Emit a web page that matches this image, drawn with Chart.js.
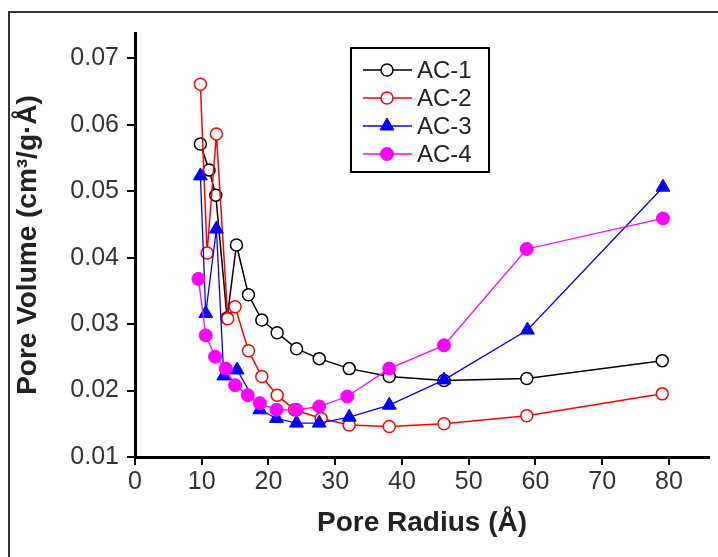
<!DOCTYPE html>
<html>
<head>
<meta charset="utf-8">
<script src="https://cdn.jsdelivr.net/npm/chart.js@4.4.1/dist/chart.umd.min.js"></script>
<style>
  html, body { margin: 0; padding: 0; background: #fff; }
  #wrap { width: 718px; height: 557px; position: relative; }
</style>
</head>
<body>
<div id="wrap"><canvas id="chart_poreVolume"></canvas></div>
<script>
// pore radius (Å) and pore volume (cm3/g·Å)
var radiusAC1 = [9.8, 11.1, 12.1, 13.8, 15.2, 17.0, 19.0, 21.3, 24.2, 27.6, 32.1, 38.1, 46.3, 58.7, 79.0];
var volumeAC1 = [0.0571, 0.0532, 0.0494, 0.0309, 0.0419, 0.0344, 0.0306, 0.0287, 0.0263, 0.0248, 0.0233, 0.0221, 0.0215, 0.0218, 0.0245];

var radiusAC2 = [9.8, 10.8, 12.2, 13.9, 15.0, 17.0, 19.0, 21.3, 23.9, 27.9, 32.1, 38.1, 46.3, 58.7, 79.0];
var volumeAC2 = [0.0661, 0.0407, 0.0586, 0.0308, 0.0326, 0.0260, 0.0221, 0.0193, 0.0171, 0.0158, 0.0148, 0.0146, 0.0150, 0.0162, 0.0195];

var radiusAC3 = [9.8, 10.6, 12.2, 13.3, 15.3, 18.7, 21.2, 24.2, 27.6, 32.1, 38.1, 46.3, 58.8, 79.1];
var volumeAC3 = [0.0523, 0.0316, 0.0443, 0.0222, 0.0231, 0.0171, 0.0158, 0.0151, 0.0151, 0.0160, 0.0178, 0.0216, 0.0291, 0.0506];

var radiusAC4 = [9.5, 10.6, 12.0, 13.6, 15.0, 16.9, 18.7, 21.2, 24.2, 27.6, 31.8, 38.1, 46.3, 58.7, 79.1];
var volumeAC4 = [0.0368, 0.0283, 0.0251, 0.0233, 0.0208, 0.0193, 0.0181, 0.0171, 0.0171, 0.0176, 0.0191, 0.0233, 0.0268, 0.0413, 0.0459];

var seriesLabels = ['AC-1', 'AC-2', 'AC-3', 'AC-4'];

function toPoints(xs, ys) {
    return xs.map(function(x, i) { return { x: x, y: ys[i] }; });
}

var tickFont = { family: 'Liberation Sans, Arial, sans-serif', size: 25 };
var titleFont = { family: 'Liberation Sans, Arial, sans-serif', size: 28, weight: 'bold' };

var chart_poreVolume = new Chart(document.getElementById('chart_poreVolume'), {
    type: 'line',
    data: {
        datasets: [
            {
                label: seriesLabels[0],
                data: toPoints(radiusAC1, volumeAC1),
                borderColor: '#000000',
                borderWidth: 1.5,
                pointStyle: 'circle',
                pointRadius: 6,
                pointBorderWidth: 1.5,
                pointBorderColor: '#000000',
                pointBackgroundColor: '#ffffff',
                order: 3
            },
            {
                label: seriesLabels[1],
                data: toPoints(radiusAC2, volumeAC2),
                borderColor: '#ff0000',
                borderWidth: 1.5,
                pointStyle: 'circle',
                pointRadius: 6,
                pointBorderWidth: 1.5,
                pointBorderColor: '#ff0000',
                pointBackgroundColor: '#ffffff',
                order: 2
            },
            {
                label: seriesLabels[2],
                data: toPoints(radiusAC3, volumeAC3),
                borderColor: '#0000ff',
                borderWidth: 1.3,
                pointStyle: 'triangle',
                pointRadius: 8,
                pointBorderWidth: 1,
                pointBorderColor: '#0000ff',
                pointBackgroundColor: '#0000ff',
                order: 1
            },
            {
                label: seriesLabels[3],
                data: toPoints(radiusAC4, volumeAC4),
                borderColor: '#ff00ff',
                borderWidth: 1.3,
                pointStyle: 'circle',
                pointRadius: 6.5,
                pointBorderWidth: 1,
                pointBorderColor: '#ff00ff',
                pointBackgroundColor: '#ff00ff',
                order: 0
            }
        ]
    },
    options: {
        animation: false,
        responsive: true,
        maintainAspectRatio: false,
        layout: {
            padding: { top: 33, right: 1, left: 0, bottom: 0 }
        },
        elements: {
            line: { tension: 0 }
        },
        plugins: {
            legend: { display: false },
            tooltip: { enabled: false }
        },
        scales: {
            x: {
                type: 'linear',
                min: 0,
                max: 86,
                title: {
                    display: true,
                    text: 'Pore Radius (Å)',
                    color: '#222',
                    font: titleFont,
                    padding: { top: 17, bottom: 17 }
                },
                ticks: {
                    stepSize: 10,
                    includeBounds: false,
                    color: '#333',
                    font: tickFont,
                    padding: 2,
                    maxRotation: 0
                },
                grid: {
                    drawOnChartArea: false,
                    drawTicks: true,
                    tickLength: 8,
                    color: '#000',
                    lineWidth: 2
                },
                border: { display: true, color: '#000', width: 3 },
                afterFit: function(scale) { scale.height = 100; }
            },
            y: {
                type: 'linear',
                min: 0.01,
                max: 0.0738,
                title: {
                    display: true,
                    text: 'Pore Volume (cm³/g·Å)',
                    color: '#222',
                    font: titleFont,
                    padding: { top: 11, bottom: 11 }
                },
                ticks: {
                    stepSize: 0.01,
                    includeBounds: false,
                    color: '#333',
                    font: tickFont,
                    padding: 8,
                    callback: function(value) { return value.toFixed(2); }
                },
                grid: {
                    drawOnChartArea: false,
                    drawTicks: true,
                    tickLength: 8,
                    color: '#000',
                    lineWidth: 2
                },
                border: { display: true, color: '#000', width: 3 },
                afterFit: function(scale) { scale.width = 135; }
            }
        }
    },
    plugins: [{
        id: 'whiteBackground',
        beforeDraw: function(chart) {
            var ctx = chart.ctx;
            ctx.save();
            ctx.fillStyle = 'white';
            ctx.fillRect(0, 0, chart.width, chart.height);
            // outer frame of the figure
            ctx.strokeStyle = '#333';
            ctx.lineWidth = 2;
            ctx.strokeRect(9, 12, 760, 600);
            ctx.restore();
        }
    }, {
        id: 'boxLegend',
        afterDraw: function(chart) {
            var ctx = chart.ctx;
            var box = { x: 351, y: 48, w: 138, h: 124 };
            ctx.save();
            ctx.fillStyle = '#fff';
            ctx.fillRect(box.x, box.y, box.w, box.h);
            ctx.strokeStyle = '#000';
            ctx.lineWidth = 2;
            ctx.strokeRect(box.x, box.y, box.w, box.h);
            ctx.font = '24px Liberation Sans, Arial, sans-serif';
            ctx.textBaseline = 'middle';
            chart.data.datasets.forEach(function(ds, i) {
                var cy = box.y + 22 + i * 28;
                ctx.strokeStyle = ds.borderColor;
                ctx.lineWidth = ds.borderWidth;
                ctx.beginPath();
                ctx.moveTo(box.x + 12, cy);
                ctx.lineTo(box.x + 61, cy);
                ctx.stroke();
                ctx.fillStyle = ds.pointBackgroundColor;
                ctx.strokeStyle = ds.pointBorderColor;
                ctx.lineWidth = ds.pointBorderWidth;
                Chart.helpers.drawPoint(ctx, {
                    pointStyle: ds.pointStyle,
                    radius: ds.pointRadius,
                    borderWidth: ds.pointBorderWidth,
                    rotation: 0
                }, box.x + 36, cy);
                ctx.fillStyle = '#222';
                ctx.fillText(ds.label, box.x + 66, cy + 1);
            });
            ctx.restore();
        }
    }]
});
</script>
</body>
</html>
